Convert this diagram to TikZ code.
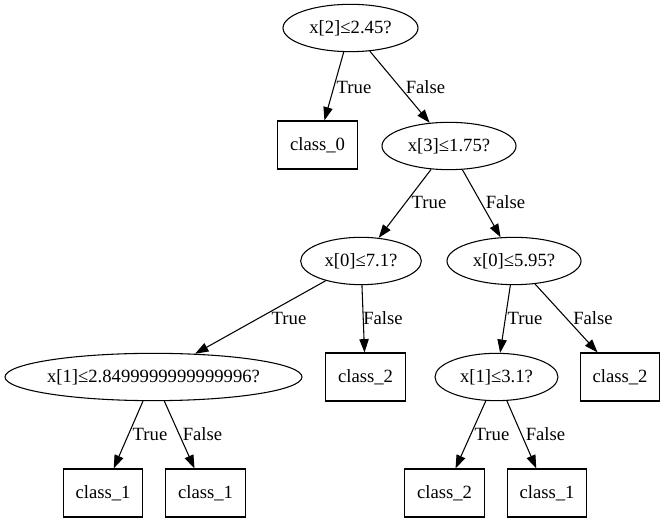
\documentclass[tikz,border=0pt]{standalone}
\usepackage{fontspec}
\setmainfont{Liberation Serif}
\newfontfamily\gvfont{Liberation Serif}
\usetikzlibrary{shapes.geometric,arrows.meta}
\begin{document}
\begin{tikzpicture}[x=0.75pt,y=-0.75pt,
  every node/.style={font=\gvfont\fontsize{14}{16}\selectfont},
  split/.style={draw, ellipse, inner sep=0pt, minimum height=35.5pt, line width=0.8pt},
  leaf/.style={draw, rectangle, inner sep=0pt, minimum width=59.5pt, minimum height=36pt, line width=0.8pt},
  conn/.style={draw, line width=0.8pt, -{Triangle[length=10pt,width=7pt]}},
  elabel/.style={inner sep=0pt}]
\useasboundingbox[fill=white] (0,0) rectangle (665,523);
% nodes
\node[split, minimum width=101.25pt] (n0) at (350.5,28) {\makebox[0pt]{x[2]≤2.45?}};
\node[leaf] (n1) at (317.5,145) {class\_0};
\node[split, minimum width=100.5pt] (n2) at (449,146) {\makebox[0pt]{x[3]≤1.75?}};
\node[split, minimum width=90.5pt] (n3) at (361,261) {\makebox[0pt]{x[0]≤7.1?}};
\node[split, minimum width=100.5pt] (n4) at (514,261) {\makebox[0pt]{x[0]≤5.95?}};
\node[split, minimum width=222.75pt] (n5) at (153.5,377) {\makebox[0pt]{x[1]≤2.8499999999999996?}};
\node[leaf] (n6) at (365.5,377) {class\_2};
\node[split, minimum width=92.25pt] (n7) at (496.5,377) {\makebox[0pt]{x[1]≤3.1?}};
\node[leaf] (n8) at (620,377) {class\_2};
\node[leaf] (n9) at (103,493) {class\_1};
\node[leaf] (n10) at (205.5,493) {class\_1};
\node[leaf] (n11) at (444.5,493) {class\_2};
\node[leaf] (n12) at (547,493) {class\_1};
% edges
\draw[conn] (n0) -- (n1);
\draw[conn] (n0) -- (n2);
\draw[conn] (n2) -- (n3);
\draw[conn] (n2) -- (n4);
\draw[conn] (n3) -- (n5);
\draw[conn] (n3) -- (n6);
\draw[conn] (n4) -- (n7);
\draw[conn] (n4) -- (n8);
\draw[conn] (n5) -- (n9);
\draw[conn] (n5) -- (n10);
\draw[conn] (n7) -- (n11);
\draw[conn] (n7) -- (n12);
% labels
\node[elabel] (l1) at (354,87) {True};
\node[elabel] (l2) at (425.5,87) {False};
\node[elabel] (l3) at (429,202) {True};
\node[elabel] (l4) at (505.5,202) {False};
\node[elabel] (l5) at (289,318) {True};
\node[elabel] (l6) at (383,318) {False};
\node[elabel] (l7) at (525,318) {True};
\node[elabel] (l8) at (593,318) {False};
\node[elabel] (l9) at (150,434) {True};
\node[elabel] (l10) at (202.5,434) {False};
\node[elabel] (l11) at (492,434) {True};
\node[elabel] (l12) at (545.5,434) {False};
\end{tikzpicture}
\end{document}
